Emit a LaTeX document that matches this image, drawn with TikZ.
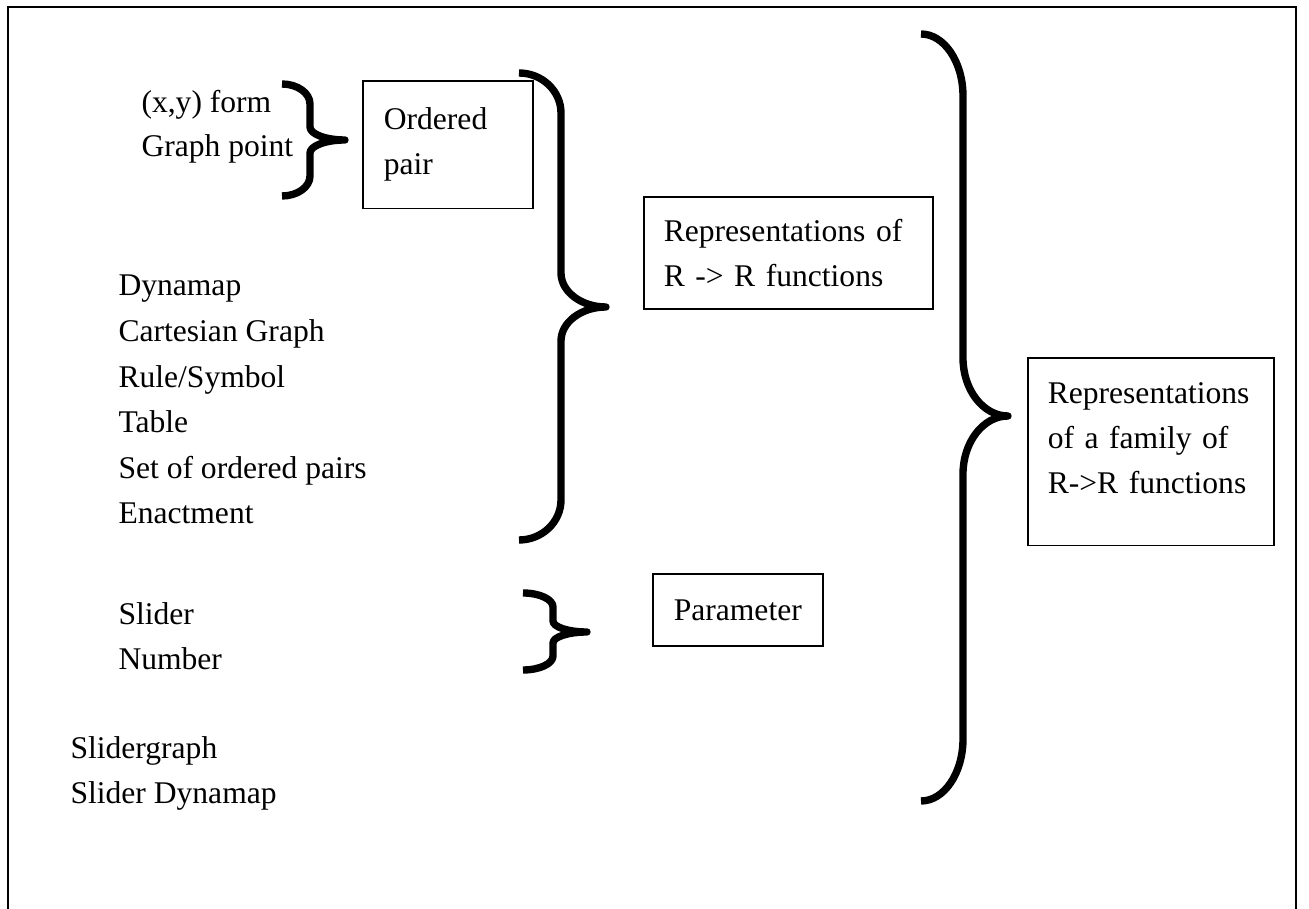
\documentclass[tikz,border=0pt]{standalone}
\usepackage{fontspec}
\setmainfont{Liberation Serif}
\tikzset{
  box/.style={draw, line width=0.6pt, anchor=north west},
  item/.style={anchor=base west, inner sep=0pt},
  bracestroke/.style={line width=2.8pt, line join=round},
}
% end x, stem x, tip x, top y, tip y, bottom y, hook, middle
\newcommand{\curlybrace}[8]{%
  \draw[bracestroke] (#1,#4)
    .. controls ({#1+0.55*(#2-#1)},#4) and (#2,{#4+0.45*#7}) .. (#2,{#4+#7})
    -- (#2,{#5-#8})
    .. controls (#2,{#5-0.45*#8}) and ({#3-0.55*(#3-#2)},#5) .. (#3,#5)
    .. controls ({#3-0.55*(#3-#2)},#5) and (#2,{#5+0.45*#8}) .. (#2,{#5+#8})
    -- (#2,{#6-#7})
    .. controls (#2,{#6-0.45*#7}) and ({#1+0.55*(#2-#1)},#6) .. (#1,#6);}
\begin{document}
\begin{tikzpicture}[x=0.38pt, y=-0.38pt, font=\fontsize{12}{17.2}\selectfont]
  \path[use as bounding box] (0,0) rectangle (1309,909);
  \draw[line width=0.5pt] (8,909) -- (8,7) -- (1296,7) -- (1296,909);

  % ordered pair
  \node[item] (xyform) at (141,113) {(x,y) form};
  \node[item] (graphpt) at (141,157) {Graph point};
  \curlybrace{282}{310}{345}{84}{140}{196}{20}{13}
  \node[box, align=left, text width=48.6pt, inner xsep=8pt, minimum height=48.6pt]
    (ordered) at (362,80) {Ordered\\pair};

  % representations
  \node[item] (dynamap) at (118,296) {Dynamap};
  \node[item] (cartesian) at (118,342) {Cartesian Graph};
  \node[item] (rule) at (118,388) {Rule/Symbol};
  \node[item] (table) at (118,433) {Table};
  \node[item] (setpairs) at (118,479) {Set of ordered pairs};
  \node[item] (enactment) at (118,524) {Enactment};
  \curlybrace{519}{561}{606}{73}{307}{540}{40}{34}
  \node[box, align=left, text width=94.6pt, inner xsep=7.6pt, minimum height=42.6pt]
    (repfun) at (643,196) {Representations of\\R -> R functions};

  % parameter
  \node[item] (slider) at (118,625) {Slider};
  \node[item] (number) at (118,670) {Number};
  \curlybrace{523}{553}{587}{593}{632}{670}{14}{11}
  \node[box, minimum width=64.6pt, minimum height=27.4pt, inner sep=0pt]
    (param) at (652,573) {Parameter};

  \node[item] (slidergraph) at (70,759) {Slidergraph};
  \node[item] (sliderdyn) at (70,804) {Slider Dynamap};

  % family
  \curlybrace{921}{963}{1008}{34}{416}{801}{62}{58}
  \node[box, align=left, text width=78.3pt, inner xsep=7.6pt, minimum height=71.4pt]
    (family) at (1027,357) {Representations\\of a family of\\R->R functions\rule[-10.5pt]{0pt}{10.5pt}};
\end{tikzpicture}
\end{document}
